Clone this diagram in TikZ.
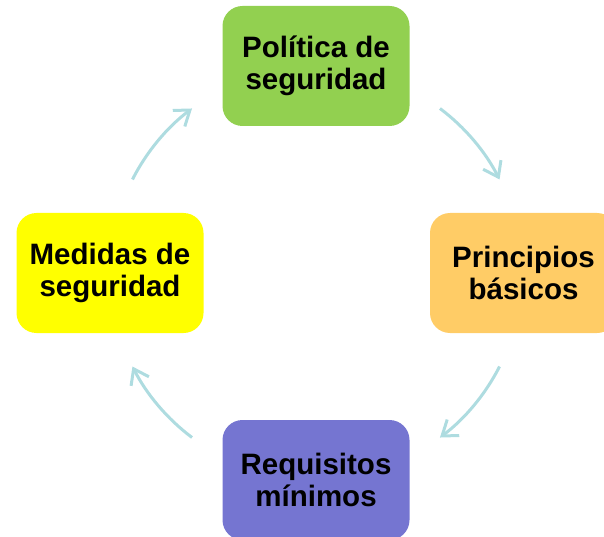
\documentclass[tikz,border=0pt]{standalone}
\usepackage{fontspec}
\setmainfont{Liberation Sans}
\usetikzlibrary{arrows.meta}
\definecolor{verde}{HTML}{92D050}
\definecolor{naranja}{HTML}{FFCC66}
\definecolor{morado}{HTML}{7575D1}
\definecolor{amarillo}{HTML}{FFFF00}
\definecolor{flechaazul}{HTML}{AEDCE0}
\tikzset{
  caja/.style={draw=none, rounded corners=20pt, minimum width=187pt, minimum height=120pt,
    align=center, text=black, font=\fontsize{29.5}{32}\selectfont\bfseries},
  flecha/.style={draw=flechaazul, line width=3pt, -{Straight Barb[length=14pt,width=20pt]}}
}
\begin{document}
\begin{tikzpicture}[x=1pt,y=1pt]
\useasboundingbox (0,0) rectangle (604,536);
\clip (0,0) rectangle (604,536);
\coordinate (centro) at (316,263);
\node[caja, fill=verde] (politica) at (316,470) {Política de\\seguridad};
\node[caja, fill=naranja] (principios) at (523.5,263) {Principios\\básicos};
\node[caja, fill=morado] (requisitos) at (316,56) {Requisitos\\mínimos};
\node[caja, fill=amarillo] (medidas) at (110,263) {Medidas de\\seguridad};
% flechas del ciclo
\foreach \a/\b in {53/27, -27/-53, 233/207, 153/127}
  \draw[flecha] ([shift={(\a:206)}]centro) arc[start angle=\a, end angle=\b, radius=206];
\end{tikzpicture}
\end{document}
